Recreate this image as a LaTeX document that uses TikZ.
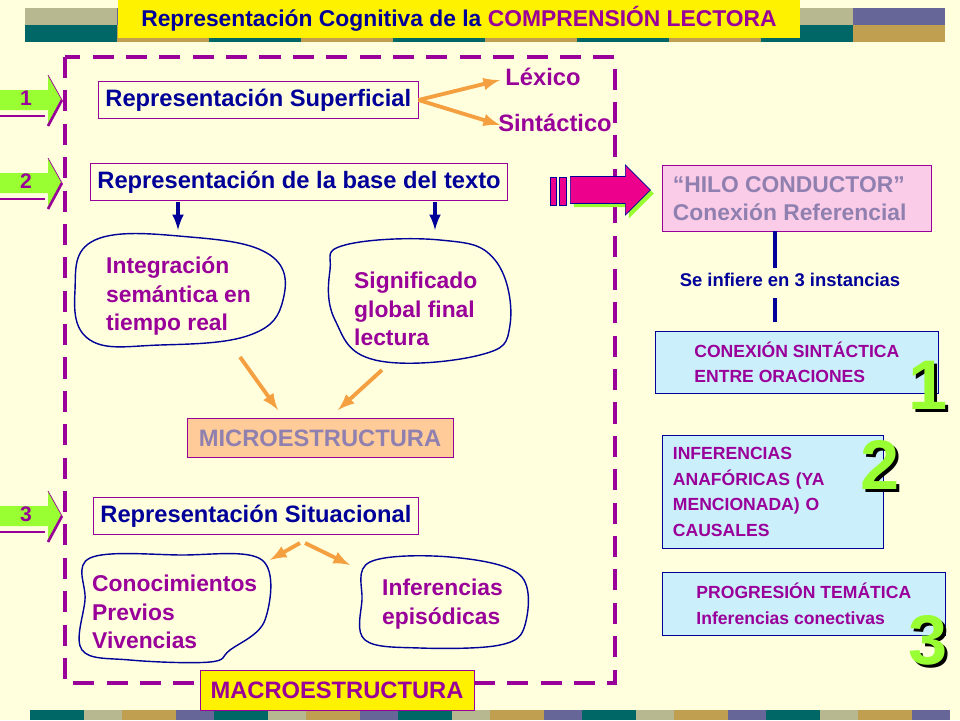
\documentclass[tikz,border=0pt]{standalone}
\usepackage{fontspec}
\setmainfont{Liberation Sans}
\usetikzlibrary{shapes.arrows,shadows,calc}
\definecolor{bgc}{HTML}{FFFFDD}
\definecolor{dblue}{HTML}{000099}
\definecolor{purp}{HTML}{990099}
\definecolor{orng}{HTML}{F5A040}
\definecolor{mgray}{HTML}{8F80B0}
\definecolor{lgreen}{HTML}{99FF33}
\definecolor{teal}{HTML}{006666}
\definecolor{ochre}{HTML}{C0A050}
\definecolor{sage}{HTML}{B8B890}
\definecolor{slate}{HTML}{666699}
\tikzset{
  box/.style={draw=purp, fill=bgc, font=\bfseries\fontsize{13.5}{16}\selectfont, text=dblue, anchor=west, inner sep=4pt},
  cbox/.style={draw=dblue, fill=cyan!20, font=\bfseries\fontsize{10}{14.5}\selectfont, text=purp, align=left, anchor=north west, inner sep=6pt},
  blobtxt/.style={font=\bfseries\fontsize{13}{16.4}\selectfont, text=purp, align=left, anchor=west},
  oarrow/.style={draw=orng, line width=2.2pt, -latex},
  barrow/.style={draw=dblue, line width=2pt, -latex},
  bignum/.style={font=\bfseries\fontsize{40}{40}\selectfont},
  blob/.style={draw=dblue, thick}
}
\newcommand{\bignumber}[2]{%
  \node[bignum, text=black] at ($(#1)+(3,3)$) {#2};
  \node[bignum, text=lgreen] at (#1) {#2};}
\begin{document}
\begin{tikzpicture}[x=0.02cm, y=-0.02cm]
\useasboundingbox (0,0) rectangle (960,720);
\fill[bgc] (0,0) rectangle (960,720);
% top and bottom bands
\foreach \i/\ca/\cb in {0/sage/teal,1/slate/ochre,2/sage/teal,3/slate/ochre,4/sage/teal,5/slate/ochre,6/sage/teal,7/slate/ochre,8/sage/teal,9/slate/ochre} {
  \fill[\ca] (25+\i*92,8) rectangle (117+\i*92,25);
  \fill[\cb] (25+\i*92,25) rectangle (117+\i*92,42);
  \fill[\cb] (30+\i*92,710) rectangle (84+\i*92,720);
  \fill[\ca] (84+\i*92,710) rectangle (122+\i*92,720);
}
\node[fill=yellow, minimum width=682*0.02cm, minimum height=38*0.02cm, font=\bfseries\fontsize{13}{16}\selectfont, text=dblue] (title) at (459,19) {Representación Cognitiva de la \textcolor{purp}{COMPRENSIÓN LECTORA}};
% dashed frame
\draw[purp, line width=2.5pt, dash pattern=on 12pt off 7pt] (65,57) rectangle (615,683);
% magenta arrow
\node[single arrow, draw=dblue, fill=magenta, minimum height=80*0.02cm, minimum width=50*0.02cm, single arrow head extend=3pt, anchor=west, drop shadow={fill=lgreen, opacity=1, shadow xshift=2pt, shadow yshift=-2pt}] (marrow) at (570,190) {};
\draw[dblue, fill=magenta] (550,177) rectangle (556,205);
\draw[dblue, fill=magenta] (559,177) rectangle (566,205);
% left side numbers
\foreach \y/\n in {100/1,183/2,516/3} {
  \fill[lgreen] (0,\y-10) -- (48,\y-10) -- (48,\y-25) -- (62,\y) -- (48,\y+25) -- (48,\y+10) -- (0,\y+10) -- cycle;
  \node[font=\bfseries\fontsize{12}{12}\selectfont, text=purp] (num\n) at (26,\y-2) {\n};
  \draw[purp, line width=1.5pt] (0,\y+16) -- (45,\y+16);
  \draw[purp, thin] (48,\y-25) -- (62,\y);
  \draw[purp, line width=1.5pt] (62,\y) -- (48,\y+26);
}
% level 1
\node[box] (sup) at (98,100) {Representación Superficial};
\node[font=\bfseries\fontsize{13.5}{16}\selectfont, text=purp] (lex) at (543,77) {Léxico};
\node[font=\bfseries\fontsize{13.5}{16}\selectfont, text=purp] (sin) at (555,123) {Sintáctico};
\draw[oarrow] (sup.east) -- (500,80);
\draw[oarrow] (sup.east) -- (500,125);
% level 2
\node[box] (base) at (90,182) {Representación de la base del texto};
\draw[barrow] (178,202) -- (178,230);
\draw[barrow] (435,202) -- (435,230);
\draw[blob] plot[smooth cycle, tension=0.7] coordinates {(95,240) (190,237) (270,255) (283,300) (250,335) (160,345) (90,340) (75,290)};
\node[blobtxt] (integ) at (100,296) {Integración\\semántica en\\tiempo real};
\draw[blob] plot[smooth cycle, tension=0.7] coordinates {(345,245) (440,240) (495,260) (510,325) (480,355) (375,360) (335,320) (330,270)};
\node[blobtxt] (signif) at (348,309) {Significado\\global final\\lectura};
\node[draw=purp, fill=orange!40, minimum width=266*0.02cm, minimum height=39*0.02cm, font=\bfseries\fontsize{13.5}{16}\selectfont, text=mgray] (micro) at (320,438) {MICROESTRUCTURA};
\draw[oarrow] (240,357) -- (278,410);
\draw[oarrow] (382,370) -- (338,410);
% level 3
\node[box] (sit) at (93,516) {Representación Situacional};
\draw[oarrow] (300,543) -- (270,560);
\draw[oarrow] (305,543) -- (350,565);
\draw[blob] plot[smooth cycle, tension=0.6] coordinates {(90,558) (180,555) (262,560) (265,620) (230,650) (210,662) (130,660) (82,650) (85,600)};
\node[blobtxt] (conoc) at (86,612) {Conocimientos\\Previos\\Vivencias};
\draw[blob] plot[smooth cycle, tension=0.6] coordinates {(370,562) (450,557) (520,575) (525,625) (500,645) (420,648) (365,640) (362,600)};
\node[blobtxt] (infep) at (376,604) {Inferencias\\episódicas};
\node[draw=purp, fill=yellow, minimum width=274*0.02cm, minimum height=40*0.02cm, font=\bfseries\fontsize{13.5}{16}\selectfont, text=purp] (macro) at (337,690) {MACROESTRUCTURA};
% right column
\node[draw=purp, fill=magenta!20, minimum width=264*0.02cm, minimum height=66*0.02cm, inner sep=6pt, font=\bfseries\fontsize{13}{16}\selectfont, text=mgray, align=left, anchor=north west] (hilo) at (662,165) {“HILO CONDUCTOR”\\Conexión Referencial\hspace*{8pt}};
\node[font=\bfseries\fontsize{10.5}{14}\selectfont, text=dblue] (inst) at (790,280) {Se infiere en 3 instancias};
\draw[dblue, line width=2pt] (775,231) -- (775,268);
\draw[dblue, line width=2pt] (775,298) -- (775,322);
\node[cbox, minimum width=283*0.02cm, minimum height=61*0.02cm] (conex) at (655,331) {CONEXIÓN SINTÁCTICA\\ENTRE ORACIONES};
\node[cbox, minimum width=219*0.02cm, minimum height=113*0.02cm, text width=200*0.02cm] (anaf) at (662,435) {INFERENCIAS\\ANAFÓRICAS (YA\\MENCIONADA) O\\CAUSALES};
\node[cbox, minimum width=283*0.02cm, minimum height=63*0.02cm] (prog) at (662,572) {PROGRESIÓN TEMÁTICA\\Inferencias conectivas};
\bignumber{928,385}{1}
\bignumber{880,465}{2}
\bignumber{928,640}{3}
\end{tikzpicture}
\end{document}
